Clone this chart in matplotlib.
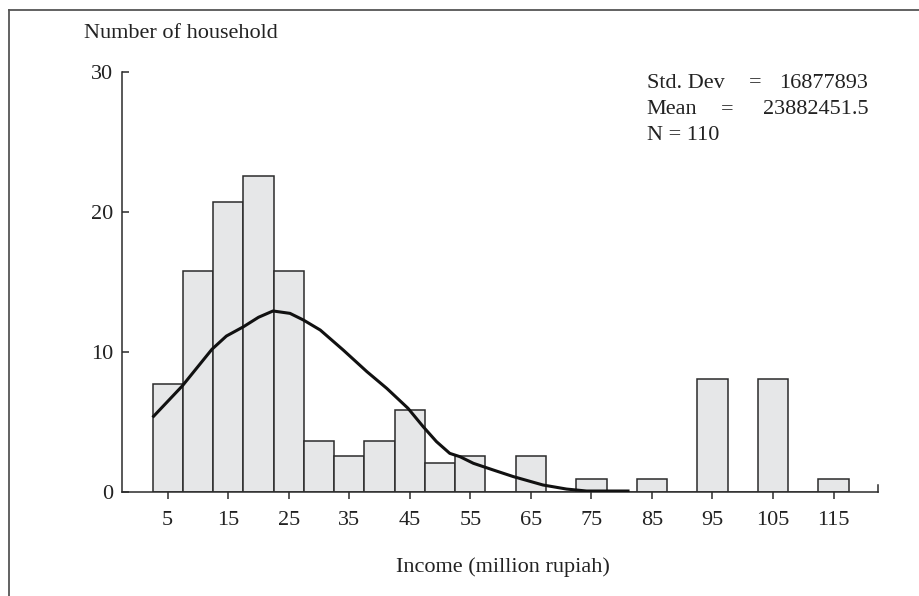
import matplotlib
matplotlib.use("Agg")
import matplotlib.pyplot as plt
from matplotlib.lines import Line2D

# ---- data ----
bin_centers = [5, 10, 15, 20, 25, 30, 35, 40, 45, 50, 55, 60, 65, 70, 75, 80, 85, 90, 95, 100, 105, 110, 115]
counts = [7.7, 15.8, 20.7, 22.6, 15.8, 3.66, 2.6, 3.66, 5.86, 2.05, 2.6, 0, 2.6, 0, 0.93, 0, 0.93, 0, 8.07, 0, 8.07, 0, 0.93]
bin_width = 5

curve_x = [2.5, 7.4, 12.3, 14.7, 17.5, 20.0, 22.4, 25.2, 27.4, 30.2, 34.0, 37.9, 41.2, 44.7,
           47.2, 49.4, 51.6, 53.3, 55.5, 58.8, 62.1, 67.0, 70.9, 74.2, 81.3]
curve_y = [5.33, 7.57, 10.19, 11.14, 11.8, 12.48, 12.93, 12.76, 12.29, 11.57, 10.14, 8.6, 7.4, 5.98,
           4.67, 3.6, 2.76, 2.52, 2.05, 1.57, 1.1, 0.5, 0.21, 0.07, 0.07]

x_ticks = [5, 15, 25, 35, 45, 55, 65, 75, 85, 95, 105, 115]
y_ticks = [0, 10, 20, 30]

std_parts = ["Std. Dev", "=", "16877893"]
mean_parts = ["Mean", "=", "23882451.5"]
n_text = "N = 110"
y_title = "Number of household"
x_title = "Income (million rupiah)"

plt.rcParams['font.family'] = ['Liberation Serif', 'DejaVu Serif']
W, H = 919, 596
fig = plt.figure(figsize=(W / 100, H / 100), dpi=100)

ax = fig.add_axes([122 / W, (H - 492) / H, (877.7 - 122) / W, (492 - 72) / H])
ax.bar(bin_centers, counts, width=bin_width, color='#e6e7e8', edgecolor='#2b2b2b', linewidth=1.1, zorder=2)
ax.plot(curve_x, curve_y, color='#111111', linewidth=2.2, zorder=3, solid_capstyle='butt')

ax.set_xlim(-2.55, 122.3)
ax.set_ylim(0, 30)
for s in ['top', 'right']:
    ax.spines[s].set_visible(False)
for s in ['left', 'bottom']:
    ax.spines[s].set_color('#2b2b2b')
    ax.spines[s].set_linewidth(1.1)

fs = 16
ax.set_xticks(x_ticks)
ax.set_xticklabels([str(t) for t in x_ticks])
ax.set_yticks(y_ticks)
ax.set_yticklabels([str(t) for t in y_ticks])
ax.tick_params(axis='y', direction='in', length=5, width=1.1, color='#2b2b2b', pad=6.5, labelsize=fs, labelcolor='#222222')
ax.tick_params(axis='x', direction='out', length=5, width=1.1, color='#2b2b2b', pad=8.5, labelsize=fs, labelcolor='#222222')

# upward end mark at right end of x-axis
ax.add_line(Line2D([1, 1], [0, 0.016], transform=ax.transAxes, color='#2b2b2b', linewidth=1.1, clip_on=False))

# titles
fig.text(84 / W, 1 - 34 / H, y_title, ha='left', va='center', fontsize=fs, color='#222222')
fig.text(503 / W, 1 - 567 / H, x_title, ha='center', va='center', fontsize=fs, color='#222222')

# stats box
tc = '#222222'
fig.text(646.7 / W, 1 - 83 / H, std_parts[0], ha='left', va='center', fontsize=fs, color=tc)
fig.text(755 / W, 1 - 83 / H, std_parts[1], ha='center', va='center', fontsize=fs, color=tc)
fig.text(868.3 / W, 1 - 83 / H, std_parts[2], ha='right', va='center', fontsize=fs, color=tc)
fig.text(646.7 / W, 1 - 109.5 / H, mean_parts[0], ha='left', va='center', fontsize=fs, color=tc)
fig.text(726.7 / W, 1 - 109.5 / H, mean_parts[1], ha='center', va='center', fontsize=fs, color=tc)
fig.text(868.3 / W, 1 - 109.5 / H, mean_parts[2], ha='right', va='center', fontsize=fs, color=tc)
fig.text(646.7 / W, 1 - 136 / H, n_text, ha='left', va='center', fontsize=fs, color=tc)

# page frame (top and left)
fig.add_artist(Line2D([9 / W, 1], [1 - 10 / H, 1 - 10 / H], transform=fig.transFigure, color='#555555', linewidth=1.3))
fig.add_artist(Line2D([9 / W, 9 / W], [0, 1 - 10 / H], transform=fig.transFigure, color='#555555', linewidth=1.3))

fig.savefig('out.png', dpi=100)
